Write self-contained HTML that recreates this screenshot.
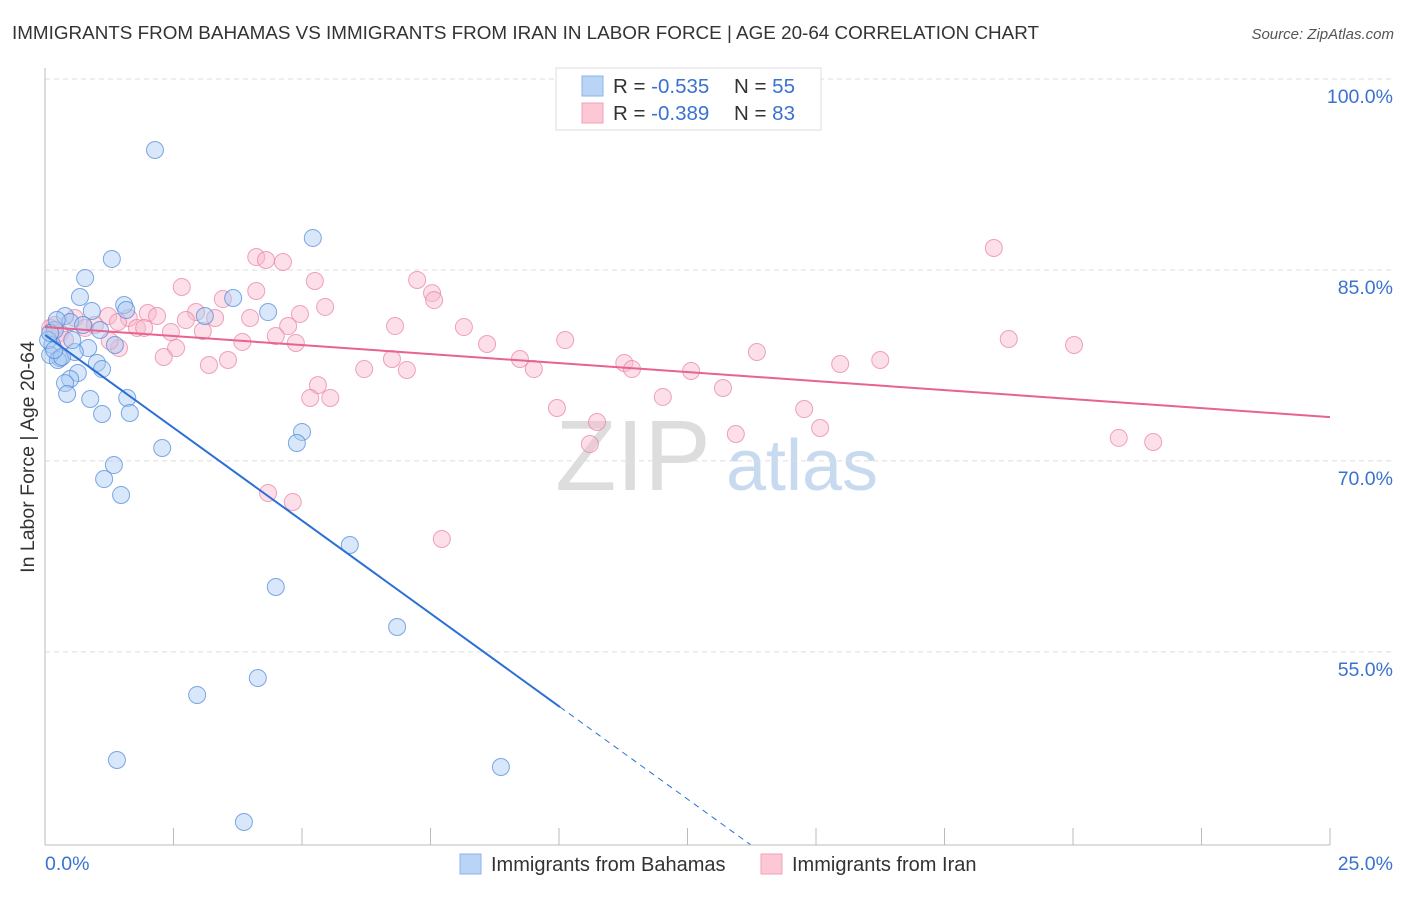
<!DOCTYPE html>
<html><head><meta charset="utf-8"><style>
body{margin:0;background:#fff;font-family:"Liberation Sans",sans-serif;}
svg text{font-family:"Liberation Sans",sans-serif;}
</style></head><body>
<svg id="chart" width="1406" height="892" viewBox="0 0 1406 892" xmlns="http://www.w3.org/2000/svg">
<text x="12" y="39" font-size="18.5" fill="#333" textLength="1027" lengthAdjust="spacingAndGlyphs">IMMIGRANTS FROM BAHAMAS VS IMMIGRANTS FROM IRAN IN LABOR FORCE | AGE 20-64 CORRELATION CHART</text>
<text x="1394" y="39" font-size="15" fill="#555" text-anchor="end" font-style="italic">Source: ZipAtlas.com</text>
<text transform="translate(34,457) rotate(-90)" font-size="19.5" fill="#333" text-anchor="middle">In Labor Force | Age 20-64</text>
<g id="watermark">
<text x="633" y="490" font-size="100" fill="#ddd" font-family="Liberation Serif" text-anchor="middle">ZIP</text>
<text x="802" y="490" font-size="72" fill="#c8daf0" text-anchor="middle">atlas</text>
</g>
<g id="grid"></g><g id="axes"></g><g id="pts"></g><g id="trends"></g>
<g>
<rect x="556" y="68" width="265" height="62" fill="#fff" stroke="#ddd"/>
<rect x="582" y="76" width="21" height="20" fill="#b9d4f5" stroke="#8ab3e8"/>
<rect x="582" y="103" width="21" height="20" fill="#fcc8d6" stroke="#f0a0b8"/>
<text x="613" y="93" font-size="20.5" fill="#333">R = <tspan fill="#3a72d0">-0.535</tspan></text>
<text x="734" y="93" font-size="20.5" fill="#333">N = <tspan fill="#3a72d0">55</tspan></text>
<text x="613" y="120" font-size="20.5" fill="#333">R = <tspan fill="#3a72d0">-0.389</tspan></text>
<text x="734" y="120" font-size="20.5" fill="#333">N = <tspan fill="#3a72d0">83</tspan></text>
</g>
<g>
<rect x="460" y="854" width="21" height="20" fill="#b9d4f5" stroke="#8ab3e8"/>
<text x="491" y="871" font-size="20" fill="#333">Immigrants from Bahamas</text>
<rect x="761" y="854" width="21" height="20" fill="#fcc8d6" stroke="#f0a0b8"/>
<text x="792" y="871" font-size="20" fill="#333">Immigrants from Iran</text>
</g>
</svg>
<script>
const yTicks=[100,85,70,55];
const yTickLabels=["100.0%","85.0%","70.0%","55.0%"];
const xTickLabels=["0.0%","25.0%"];
const bahamasX=[2.14,5.21,1.30,0.78,0.68,1.54,3.66,4.34,1.58,0.91,0.39,3.11,0.49,0.74,0.19,1.36,0.84,0.58,0.14,0.29,0.10,1.01,1.11,0.64,0.49,0.39,0.43,0.88,1.60,1.11,1.65,5.00,4.90,2.28,1.34,1.15,1.48,5.93,4.49,6.85,4.14,2.96,1.40,8.87,3.87,0.06,0.25,0.33,0.10,0.18,1.07,0.53,0.23];
const bahamasY=[94.66,87.75,86.10,84.60,83.11,82.48,83.03,81.93,82.09,82.01,81.62,81.62,81.15,80.91,80.52,79.34,79.10,78.79,79.34,78.32,78.55,77.93,77.45,77.14,76.67,76.35,75.49,75.10,75.18,73.92,74.00,72.51,71.64,71.25,69.91,68.81,67.56,63.63,60.33,57.19,53.18,51.85,46.74,46.19,41.87,79.73,78.16,78.40,80.28,78.95,80.52,79.73,81.30];
const iranX=[18.46,4.11,4.30,4.63,7.24,5.25,2.66,7.53,4.11,3.46,7.57,5.45,2.94,4.96,2.00,2.18,1.23,1.63,3.31,3.99,2.74,1.42,0.58,0.19,1.79,1.93,4.73,6.81,8.15,2.45,3.07,4.49,18.75,10.12,3.84,4.88,8.60,20.02,1.44,2.55,13.85,2.31,3.56,6.75,9.24,16.25,3.19,11.27,15.47,6.21,7.04,9.51,11.42,12.57,5.31,13.19,5.16,5.55,12.02,9.96,14.77,10.74,15.08,13.44,10.60,20.89,21.56,4.34,4.82,7.72,0.10,0.29,0.78,0.97,0.39,1.26];
const iranY=[86.96,86.25,86.02,85.86,84.45,84.37,83.90,83.42,83.58,82.95,82.87,82.33,81.93,81.78,81.85,81.62,81.62,81.46,81.46,81.46,81.30,81.15,81.46,80.91,80.68,80.68,80.83,80.83,80.75,80.36,80.44,80.05,79.81,79.73,79.58,79.50,79.42,79.34,79.10,79.10,78.79,78.40,78.16,78.24,78.24,78.16,77.77,77.93,77.85,77.45,77.38,77.45,77.45,77.30,76.19,75.96,75.18,75.18,75.26,74.39,74.31,73.29,72.82,72.35,71.56,72.04,71.72,67.71,67.01,64.10,80.68,80.28,80.68,80.91,79.73,79.65];
const bahamasTrend=[80.13,-2.917];
const iranTrend=[80.75,-0.283];
const NS="http://www.w3.org/2000/svg";
const X=v=>45+v*51.4, Y=v=>82+(100-v)*12.73;
function mk(t,a,p){const e=document.createElementNS(NS,t);for(const k in a)e.setAttribute(k,a[k]);document.getElementById(p).appendChild(e);return e;}
yTicks.forEach((t,i)=>{
 const l=mk('line',{x1:45,x2:1394,y1:Y(t)-3,y2:Y(t)-3,stroke:'#ddd','stroke-dasharray':'5,4'},'grid');
 
 
 const tx=mk('text',{x:1393,y:Y(t)+21,'font-size':19.5,fill:'#3a72d0','text-anchor':'end'},'axes');
 tx.textContent=yTickLabels[i];
 
 
});
const ax=mk('line',{x1:45,x2:45,y1:68,y2:845,stroke:'#bbb'},'axes');


const bx=mk('line',{x1:45,x2:1330,y1:845,y2:845,stroke:'#bbb'},'axes');


for(let i=0;i<=10;i++){const tk=mk('line',{x1:X(i*2.5),x2:X(i*2.5),y1:828,y2:845,stroke:'#bbb'},'axes');
 
 }
[[0,'start',45],[25,'end',1393]].forEach((d,i)=>{const t=mk('text',{x:d[2],y:870,'font-size':19.5,fill:'#3a72d0','text-anchor':d[1]},'axes');t.textContent=xTickLabels[i];
 
 });
function pts(xs,ys,fill,stroke,name){xs.forEach((x,i)=>{const c=mk('circle',{cx:X(x),cy:Y(ys[i]),r:8.5,fill:fill,'fill-opacity':0.45,stroke:stroke,'stroke-opacity':0.7,'stroke-width':1},'pts');
 
 });}
pts(iranX,iranY,'#f9b9cc','#e87fa0','iran-point');
pts(bahamasX,bahamasY,'#a9c9f2','#4a86d8','bahamas-point');
const b1=mk('line',{x1:X(0),y1:Y(bahamasTrend[0]),x2:X(10.02),y2:Y(bahamasTrend[0]+bahamasTrend[1]*10.02),stroke:'#2a6fd6','stroke-width':2},'trends');


const xe=(40.1-bahamasTrend[0])/bahamasTrend[1];
const b2=mk('line',{x1:X(10.02),y1:Y(bahamasTrend[0]+bahamasTrend[1]*10.02),x2:X(xe),y2:Y(40.1),stroke:'#2a6fd6','stroke-width':1,'stroke-dasharray':'6,5'},'trends');


const p1=mk('line',{x1:X(0),y1:Y(iranTrend[0]),x2:X(25),y2:Y(iranTrend[0]+iranTrend[1]*25),stroke:'#e8638d','stroke-width':2},'trends');


</script>
</body></html>
